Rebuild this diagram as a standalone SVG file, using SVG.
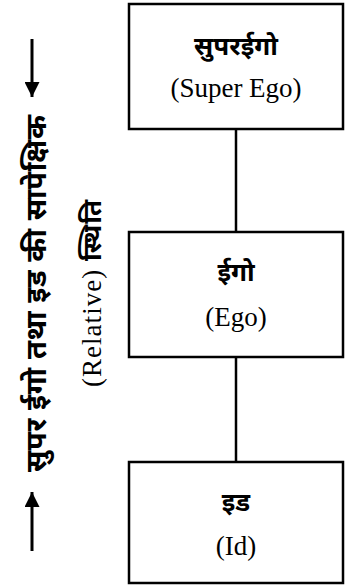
<svg xmlns="http://www.w3.org/2000/svg" width="346" height="588" viewBox="0 0 346 588">
  <style>
    .box { fill: #ffffff; stroke: #000000; stroke-width: 2.5; }
    .link { stroke: #000000; stroke-width: 2.5; fill: none; }
    .arrow { stroke: #000000; stroke-width: 3; fill: none; }
    .hi { font-family: "Noto Sans Devanagari", "Lohit Devanagari", "Noto Sans", sans-serif; font-weight: bold; font-size: 26px; fill: #000; }
    .en { font-family: "Liberation Serif", "Times New Roman", serif; font-size: 27px; fill: #000; }
    .mid { text-anchor: middle; }
  </style>
  <defs>
    <marker id="head" viewBox="0 0 10 10" refX="10" refY="5" markerWidth="5" markerHeight="5" orient="auto" markerUnits="strokeWidth">
      <path d="M0,0 L10,5 L0,10 Z" fill="#000"/>
    </marker>
  </defs>
  <rect width="346" height="588" fill="#ffffff"/>

  <!-- connectors between the three levels -->
  <g id="connectors">
    <line class="link" x1="236" y1="129" x2="236" y2="232"/>
    <line class="link" x1="236" y1="357" x2="236" y2="462"/>
  </g>

  <g id="superego">
    <rect class="box" x="129" y="4" width="214" height="125"/>
    <text class="hi mid" x="236" y="55">सुपरईगो</text>
    <text class="en mid" x="236" y="97">(Super Ego)</text>
  </g>

  <g id="ego">
    <rect class="box" x="129" y="232" width="214" height="125"/>
    <text class="hi mid" x="236" y="281">ईगो</text>
    <text class="en mid" x="236" y="326">(Ego)</text>
  </g>

  <g id="id">
    <rect class="box" x="129" y="462" width="214" height="121"/>
    <text class="hi mid" x="236" y="511">इड</text>
    <text class="en mid" x="236" y="555">(Id)</text>
  </g>

  <!-- side caption with direction arrows -->
  <g id="caption">
    <line class="arrow" x1="32" y1="39" x2="32" y2="97" marker-end="url(#head)"/>
    <line class="arrow" x1="32" y1="551" x2="32" y2="492" marker-end="url(#head)"/>
    <text class="hi mid" transform="translate(46,293.5) rotate(-90)" style="font-size:29px" textLength="357">सुपर ईगो तथा इड की सापेक्षिक</text>
    <text class="mid" transform="translate(101,293.5) rotate(-90)" textLength="187"><tspan class="en">(Relative) </tspan><tspan class="hi">स्थिति</tspan></text>
  </g>
</svg>
